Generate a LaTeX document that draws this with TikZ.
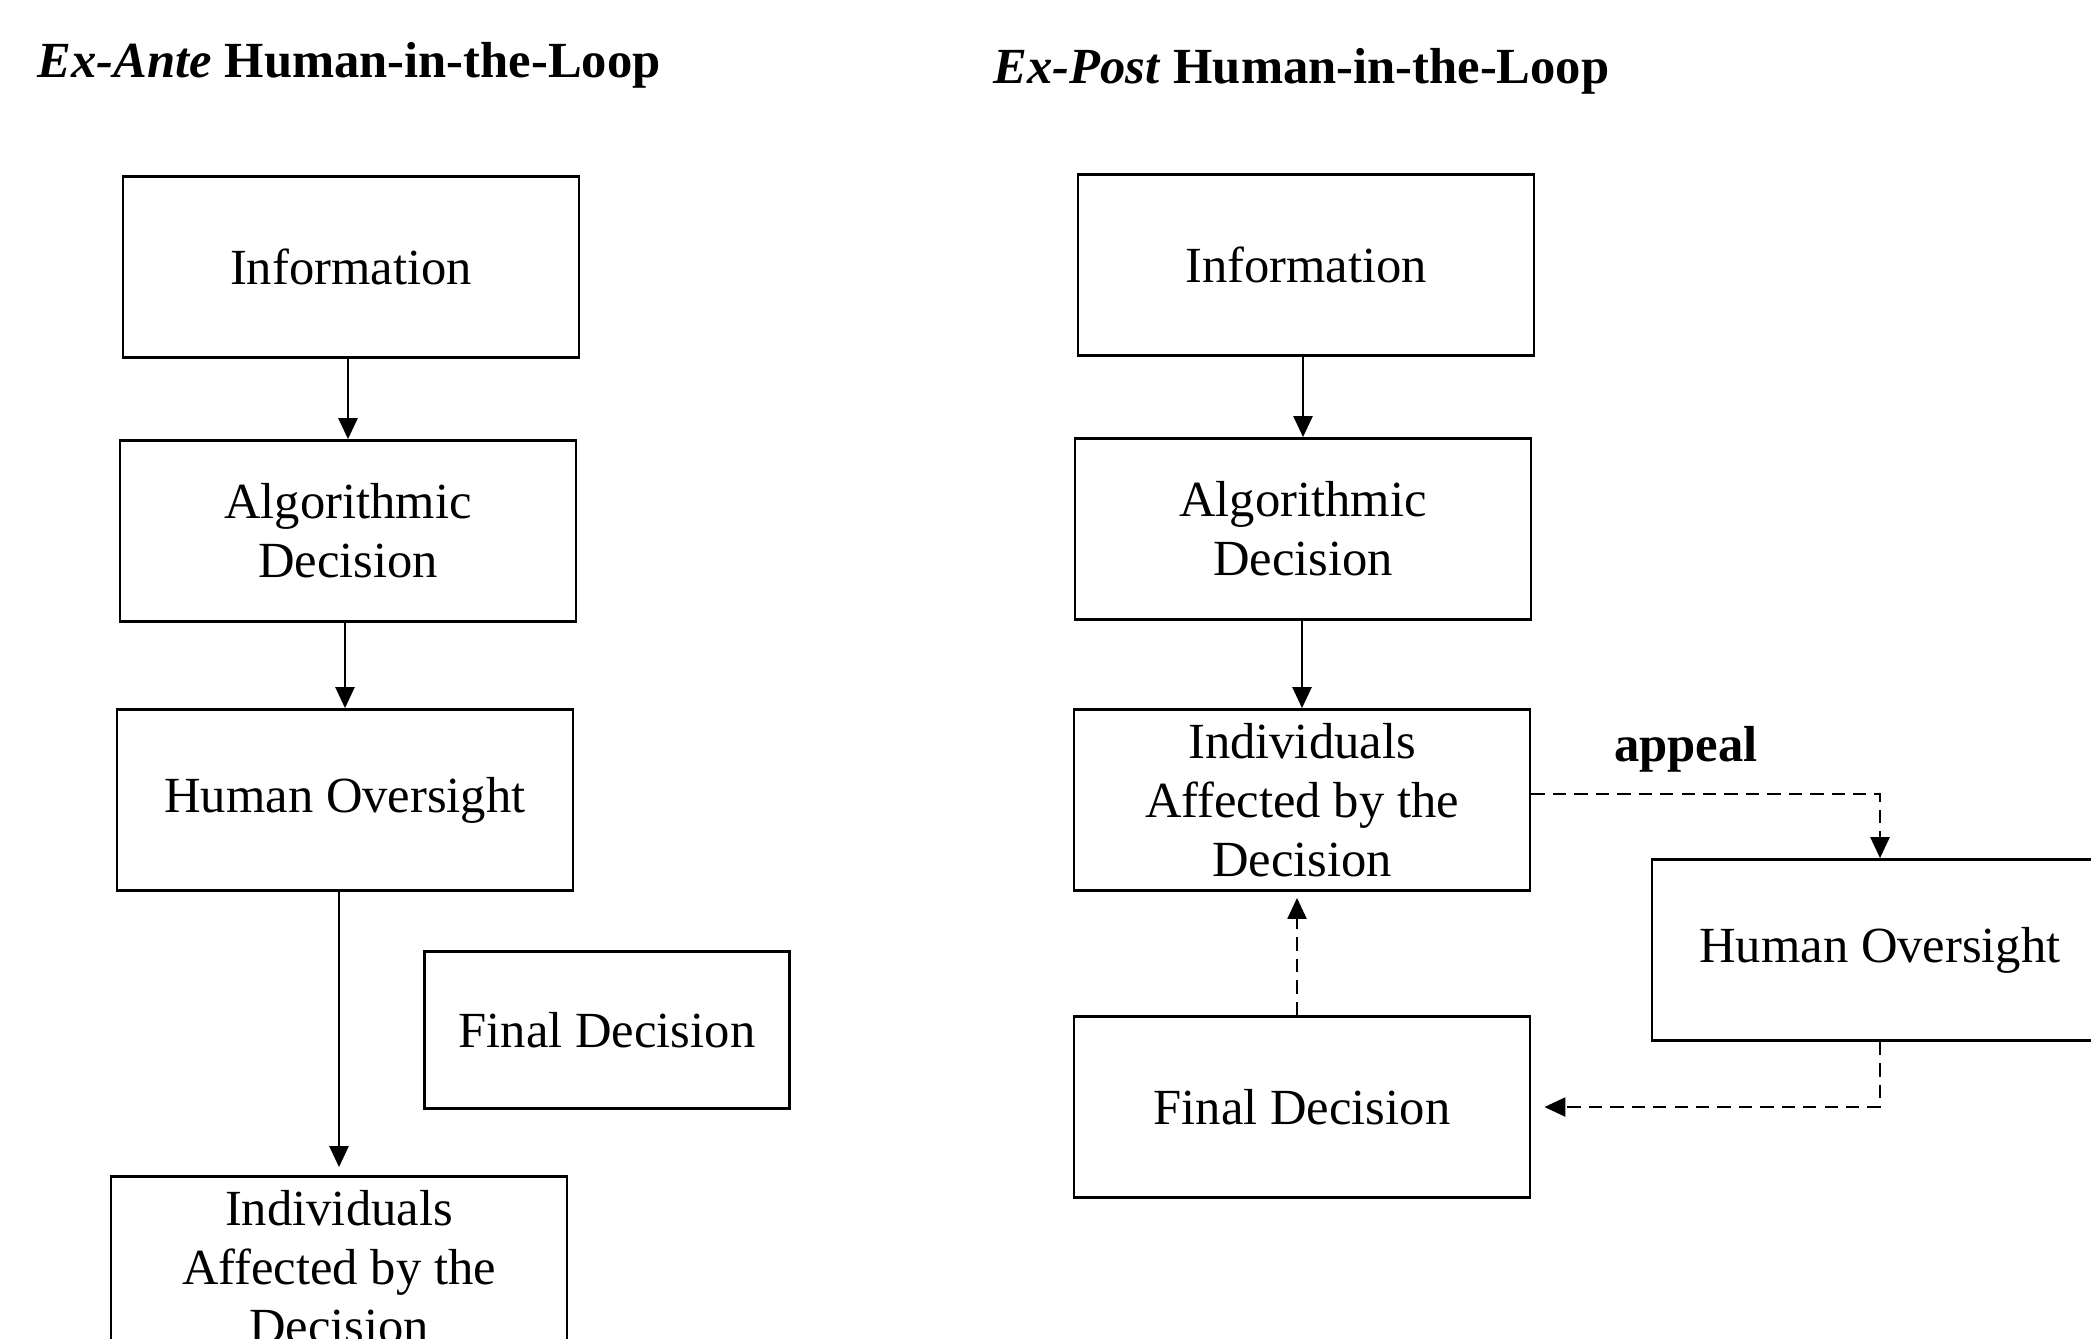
\documentclass[tikz,border=0pt]{standalone}
\usepackage{fontspec}
\setmainfont{Liberation Serif}
\usetikzlibrary{shapes,arrows,arrows.meta,positioning,calc}

\begin{document}
\begin{tikzpicture}[
    stage/.style={draw, line width=0.8pt, minimum width=4.56cm, minimum height=1.81cm, align=center, inner sep=2pt, font=\fontsize{14.4}{16.8}\selectfont},
    heading/.style={anchor=base west, inner sep=0pt, font=\fontsize{14.4}{17}\selectfont\bfseries},
    arrow/.style={-{Triangle[length=2.1mm,width=1.9mm]}, line width=0.7pt},
    dasharrow/.style={arrow, dash pattern=on 3.8pt off 2.3pt}
]

\useasboundingbox (0,0) rectangle (20.91,-13.38);

% Titles
\node[heading] (titleante) at (0.37,-0.77) {\textit{Ex-Ante} Human-in-the-Loop};
\node[heading] (titlepost) at (9.93,-0.83) {\textit{Ex-Post} Human-in-the-Loop};

% Ex-ante column
\node[stage] (info1) at (3.51,-2.67) {Information};
\node[stage] (alg1) at (3.48,-5.31) {Algorithmic\\Decision};
\node[stage] (over1) at (3.45,-8.00) {Human Oversight};
\node[stage, minimum width=3.65cm, minimum height=1.57cm] (final1) at (6.07,-10.30) {Final Decision};
\node[stage] (indiv1) at (3.39,-12.67) {Individuals\\Affected by the\\Decision};

% Ex-post column
\node[stage] (info2) at (13.06,-2.65) {Information};
\node[stage] (alg2) at (13.03,-5.29) {Algorithmic\\Decision};
\node[stage] (indiv2) at (13.02,-8.00) {Individuals\\Affected by the\\Decision};
\node[stage] (final2) at (13.02,-11.07) {Final Decision};
\node[stage] (over2) at (18.80,-9.50) {Human Oversight};
\node[font=\fontsize{14.4}{17}\selectfont\bfseries] (appeal) at (16.86,-7.49) {appeal};

% Arrows (ex-ante)
\draw[arrow] (alg1.north |- info1.south) -- (alg1.north);
\draw[arrow] (over1.north |- alg1.south) -- (over1.north);
\draw[arrow, shorten >=0.8mm] (indiv1.north |- over1.south) -- (indiv1.north);

% Arrows (ex-post)
\draw[arrow] (alg2.north |- info2.south) -- (alg2.north);
\draw[arrow] (indiv2.north |- alg2.south) -- (indiv2.north);
\draw[dasharrow] ([yshift=0.06cm]indiv2.east) -| (over2.north);
\draw[dasharrow, shorten >=1.3mm] (over2.south) |- (final2.east);
\draw[dasharrow, shorten >=0.6mm] ([xshift=-0.05cm]final2.north) -- ([xshift=-0.05cm]indiv2.south);

\end{tikzpicture}
\end{document}
